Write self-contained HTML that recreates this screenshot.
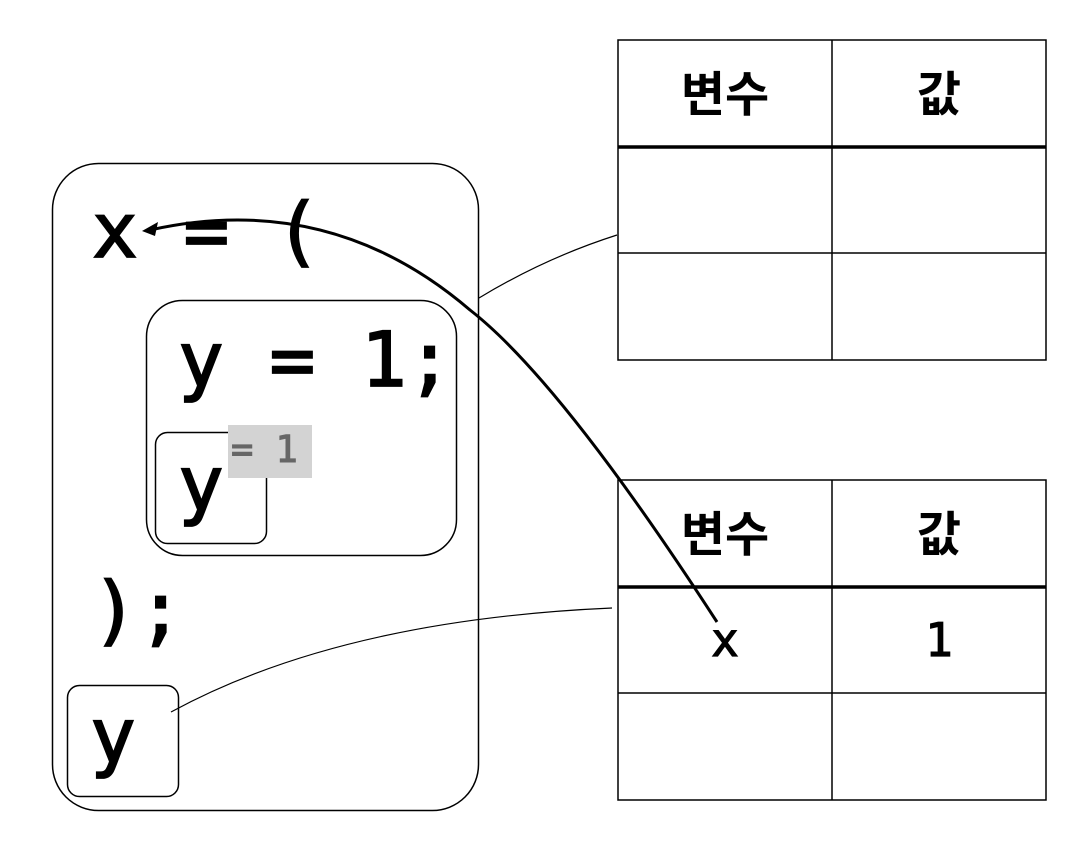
<!DOCTYPE html>
<html><head><meta charset="utf-8"><style>html,body{margin:0;padding:0;background:#fff}</style></head>
<body>
<svg width="1086" height="853" viewBox="0 0 1086 853" xmlns="http://www.w3.org/2000/svg">
<g fill="none" stroke="#000">
<rect x="52.5" y="163.5" width="426" height="647" rx="46" stroke-width="1.5"/>
<rect x="146.5" y="300.5" width="310" height="255" rx="36" stroke-width="1.5"/>
<rect x="155.5" y="432.5" width="111" height="111" rx="12" stroke-width="1.5"/>
<rect x="67.5" y="685.5" width="111" height="111" rx="12" stroke-width="1.5"/>
<rect x="618" y="40" width="428" height="320" stroke-width="1.5"/>
<line x1="832" y1="40" x2="832" y2="360" stroke-width="1.5"/>
<line x1="618" y1="147" x2="1046" y2="147" stroke-width="3.5"/>
<line x1="618" y1="253" x2="1046" y2="253" stroke-width="1.5"/>
<rect x="618" y="480" width="428" height="320" stroke-width="1.5"/>
<line x1="832" y1="480" x2="832" y2="800" stroke-width="1.5"/>
<line x1="618" y1="587" x2="1046" y2="587" stroke-width="3.5"/>
<line x1="618" y1="693" x2="1046" y2="693" stroke-width="1.5"/>
<path d="M479 298 Q545 258 617 235" stroke-width="1.2"/>
<path d="M171 712 Q340 620 612 608" stroke-width="1.2"/>
<path d="M717 622 Q560 380 470 310 Q330 190 150 230" stroke-width="3"/>
</g>
<polygon points="142,231 158,222 155,236" fill="#000"/>
<rect x="228" y="425" width="84" height="53" fill="#d3d3d3"/>
<g font-family="'DejaVu Sans Mono','Liberation Mono',monospace" fill="#000" stroke="#000" stroke-width="1.8" font-size="76">
<text x="92" y="257">x = (</text>
<text x="178" y="386">y = 1;</text>
<text x="92" y="636">);</text>
<text x="178" y="510">y</text>
<text x="90" y="762">y</text>
</g>
<text x="231" y="462" font-family="'DejaVu Sans Mono','Liberation Mono',monospace" font-size="37" fill="#666" stroke="#666" stroke-width="1.1">= 1</text>
<g font-family="'Liberation Sans','Noto Sans CJK KR',sans-serif" font-weight="bold" font-size="48" text-anchor="middle" fill="#000">
<text x="725" y="111">변수</text>
<text x="939" y="111">값</text>
<text x="725" y="551">변수</text>
<text x="939" y="551">값</text>
</g>
<g font-family="'DejaVu Sans Mono','Liberation Mono',monospace" font-size="46" text-anchor="middle" fill="#000" stroke="#000" stroke-width="1.2">
<text x="725" y="656">x</text>
<text x="939" y="656">1</text>
</g>
</svg>
</body></html>
